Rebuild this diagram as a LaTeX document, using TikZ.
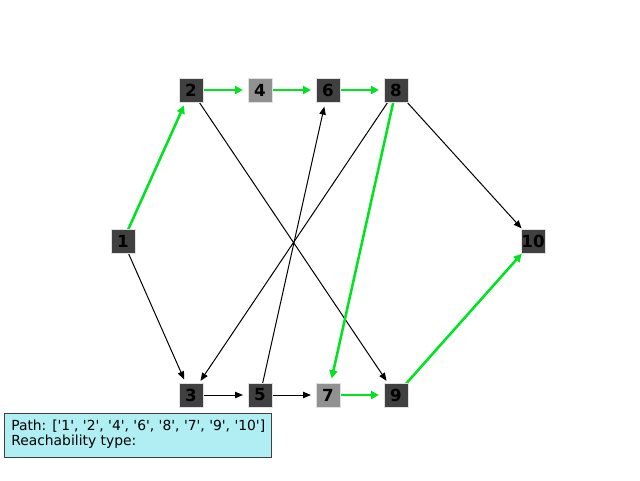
\documentclass[tikz,border=0pt]{standalone}
\usepackage{fontspec}
\setmainfont{DejaVu Sans}
\usetikzlibrary{arrows.meta}
\definecolor{nodedark}{RGB}{64,64,64}
\definecolor{nodelight}{RGB}{145,145,145}
\definecolor{pathgreen}{RGB}{0,228,32}
\definecolor{legendfill}{RGB}{175,238,242}
\definecolor{legendedge}{RGB}{64,64,64}
\newcommand{\qq}[1]{\textquotesingle#1\textquotesingle}
\tikzset{
  helper/.style={circle, minimum size=25.5pt, inner sep=0pt, outer sep=0pt},
  sq/.style={rectangle, minimum size=18pt, inner sep=0pt, draw=white!88!black, line width=0.5pt, font=\fontsize{12.5}{14}\selectfont\bfseries, text=black},
  dark/.style={sq, fill=nodedark},
  light/.style={sq, fill=nodelight},
  blackedge/.style={draw=black, line width=0.75pt, -{Triangle[length=6pt,width=4.8pt]}},
  greenedge/.style={draw=pathgreen, line width=1.9pt, -{Triangle[length=6pt,width=6pt]}},
  legend/.style={rectangle, fill=legendfill, draw=legendedge, line width=0.75pt, anchor=north west, minimum width=200.25pt, minimum height=33pt, inner sep=0pt},
  legendtext/.style={anchor=west, font=\fontsize{10.4}{12}\selectfont, inner sep=0pt}
}
\begin{document}
\begin{tikzpicture}[x=0.75pt, y=-0.75pt]
\useasboundingbox (0,0) rectangle (640,480);
% helper anchor circles
\node[helper] (c1) at (123,241) {};
\node[helper] (c2) at (191,90) {};
\node[helper] (c3) at (191,395) {};
\node[helper] (c4) at (260,90) {};
\node[helper] (c5) at (260,395) {};
\node[helper] (c6) at (328,90) {};
\node[helper] (c7) at (328,395) {};
\node[helper] (c8) at (396,90) {};
\node[helper] (c9) at (396,395) {};
\node[helper] (c10) at (533,241) {};
% black edges
\draw[blackedge] (c1.center) -- (c3);
\draw[blackedge] (c2.center) -- (c9);
\draw[blackedge] (c8.center) -- (c3);
\draw[blackedge] (c8.center) -- (c10);
\draw[blackedge] (c3.center) -- (c5);
\draw[blackedge] (c5.center) -- (c6);
\draw[blackedge] (c5.center) -- (c7);
% green path edges
\draw[greenedge] (c1.center) -- (c2);
\draw[greenedge] (c2.center) -- (c4);
\draw[greenedge] (c4.center) -- (c6);
\draw[greenedge] (c6.center) -- (c8);
\draw[greenedge] (c8.center) -- (c7);
\draw[greenedge] (c7.center) -- (c9);
\draw[greenedge] (c9.center) -- (c10);
% nodes
\node[dark] (n1) at (123,241) {1};
\node[dark] (n2) at (191,90) {2};
\node[dark] (n3) at (191,395) {3};
\node[light] (n4) at (260,90) {4};
\node[dark] (n5) at (260,395) {5};
\node[dark] (n6) at (328,90) {6};
\node[light] (n7) at (328,395) {7};
\node[dark] (n8) at (396,90) {8};
\node[dark] (n9) at (396,395) {9};
\node[dark] (n10) at (533,241) {10};
% legend
\node[legend] (lg) at (4,413) {};
\node[legendtext] (l1) at (11,426) {Path: [\qq{1}, \qq{2}, \qq{4}, \qq{6}, \qq{8}, \qq{7}, \qq{9}, \qq{10}]};
\node[legendtext] (l2) at (11,442) {Reachability type:};
\end{tikzpicture}
\end{document}
